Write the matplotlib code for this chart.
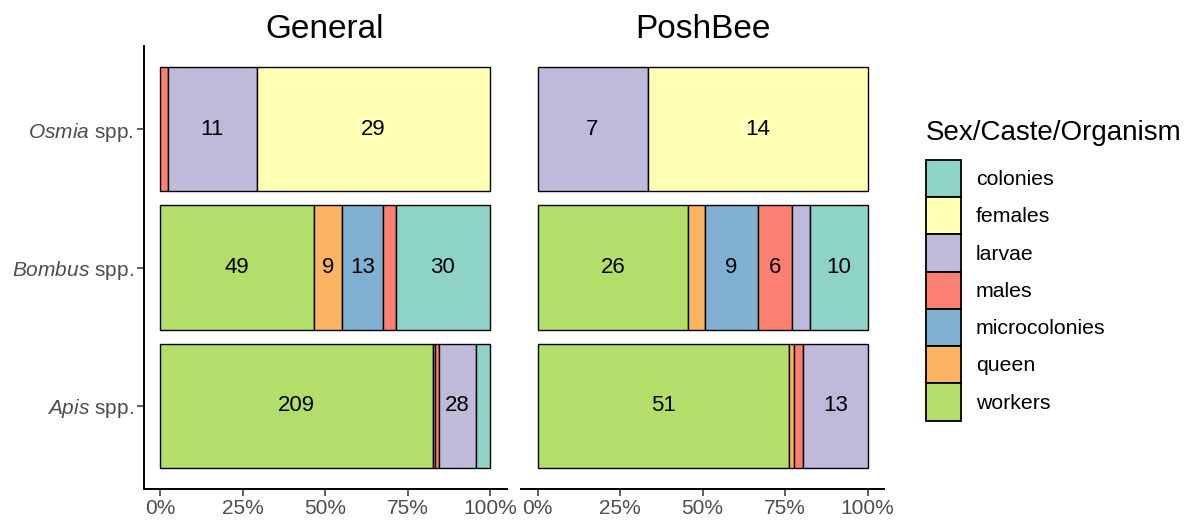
import matplotlib
matplotlib.use("Agg")
import matplotlib.pyplot as plt
from matplotlib.patches import Patch
import numpy as np

plt.rcParams['font.family'] = ['Liberation Sans', 'DejaVu Sans']
plt.rcParams['mathtext.fontset'] = 'custom'
plt.rcParams['mathtext.rm'] = 'Liberation Sans'
plt.rcParams['mathtext.it'] = 'Liberation Sans:italic'

# ---- data ----
genera = ['Apis', 'Bombus', 'Osmia']          # bottom to top
panels = ['General', 'PoshBee']
stack_order = ['workers', 'queen', 'microcolonies', 'males', 'larvae', 'females', 'colonies']
legend_order = ['colonies', 'females', 'larvae', 'males', 'microcolonies', 'queen', 'workers']
tick_labels = ['0%', '25%', '50%', '75%', '100%']

# General panel counts (Apis, Bombus, Osmia)
gen_workers = [209, 49, 0]
gen_queen = [2, 9, 0]
gen_microcolonies = [0, 13, 0]
gen_males = [3, 4, 1]
gen_larvae = [28, 0, 11]
gen_females = [0, 0, 29]
gen_colonies = [11, 30, 0]

# PoshBee panel counts (Apis, Bombus, Osmia)
pb_workers = [51, 26, 0]
pb_queen = [1, 3, 0]
pb_microcolonies = [0, 9, 0]
pb_males = [2, 6, 0]
pb_larvae = [13, 3, 7]
pb_females = [0, 0, 14]
pb_colonies = [0, 10, 0]

colors = {
    'colonies': '#8DD3C7', 'females': '#FFFFB3', 'larvae': '#BEBADA',
    'males': '#FB8072', 'microcolonies': '#80B1D3', 'queen': '#FDB462',
    'workers': '#B3DE69',
}

general = {'workers': gen_workers, 'queen': gen_queen, 'microcolonies': gen_microcolonies,
           'males': gen_males, 'larvae': gen_larvae, 'females': gen_females,
           'colonies': gen_colonies}
poshbee = {'workers': pb_workers, 'queen': pb_queen, 'microcolonies': pb_microcolonies,
           'males': pb_males, 'larvae': pb_larvae, 'females': pb_females,
           'colonies': pb_colonies}

W, H = 1191, 520
fig = plt.figure(figsize=(W / 100, H / 100), dpi=100)

grey = '#4D4D4D'
panel_lefts = [143.5, 521]
panel_w = 363
top_px, bot_px = 46, 489
edge_lw = 1.0

for pi, (name, data) in enumerate(zip(panels, [general, poshbee])):
    ax = fig.add_axes([panel_lefts[pi] / W, 1 - bot_px / H, panel_w / W, (bot_px - top_px) / H])
    mat = np.array([data[k] for k in stack_order], dtype=float)
    totals = mat.sum(axis=0)
    props = mat / totals
    y = np.arange(len(genera))
    left = np.zeros(len(genera))
    for k, cat in enumerate(stack_order):
        for j in range(len(genera)):
            v = props[k, j]
            if v > 0:
                ax.barh(y[j], v, left=left[j], height=0.9, color=colors[cat],
                        edgecolor='black', linewidth=edge_lw, zorder=2)
                if v > 0.06:
                    ax.text(left[j] + v / 2, y[j], f"{int(mat[k, j])}", ha='center',
                            va='center', fontsize=16, color='black', zorder=3)
        left = left + props[k]
    ax.set_xlim(-0.05, 1.05)
    ax.set_ylim(-0.6, 2.6)
    ax.set_xticks([0, 0.25, 0.5, 0.75, 1.0])
    ax.set_xticklabels(tick_labels)
    for s in ['top', 'right']:
        ax.spines[s].set_visible(False)
    ax.spines['bottom'].set_linewidth(1.4)
    ax.tick_params(axis='x', colors=grey, labelsize=15, length=5, width=1.1, pad=2)
    ax.tick_params(axis='x', color='#333333')
    if pi == 0:
        ax.spines['left'].set_linewidth(1.4)
        ax.set_yticks(y)
        ax.set_yticklabels([rf"$\mathit{{{g}}}$ spp." for g in genera])
        ax.tick_params(axis='y', colors=grey, labelsize=15, length=5, width=1.1, pad=2)
        ax.tick_params(axis='y', color='#333333')
    else:
        ax.spines['left'].set_visible(False)
        ax.set_yticks([])
    fig.text((panel_lefts[pi] + panel_w / 2) / W, 1 - 30 / H, name, ha='center',
             va='center', fontsize=24, color='black')

handles = [Patch(facecolor=colors[c], edgecolor='black', linewidth=1.3) for c in legend_order]
leg = fig.legend(handles, legend_order, loc='upper left',
                 bbox_to_anchor=(909 / W, 1 - 103 / H), frameon=False,
                 fontsize=15.3, title='Sex/Caste/Organism', title_fontsize=20,
                 handlelength=1.64, handleheight=2.32, labelspacing=0.0,
                 handletextpad=0.7, alignment='left', borderpad=0.3)
leg._legend_box.sep = 10

fig.savefig('out.png', dpi=100)
